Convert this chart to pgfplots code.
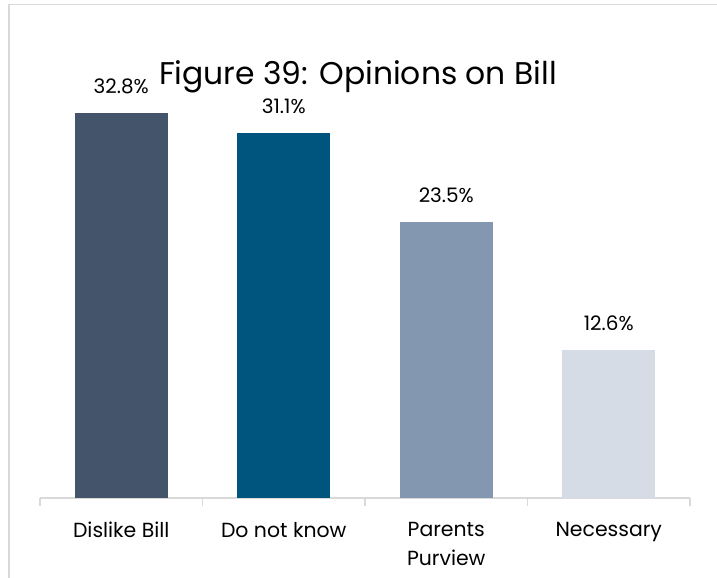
\documentclass[border=0pt]{standalone}
\usepackage{pgfplots}
\pgfplotsset{compat=1.18}
\usepackage{fontspec}
\setmainfont{Poppins}
\definecolor{c1}{HTML}{44546A}
\definecolor{c2}{HTML}{00557F}
\definecolor{c3}{HTML}{8497B0}
\definecolor{c4}{HTML}{D6DCE5}
\definecolor{fr}{HTML}{D9D9D9}
\begin{document}
\begin{tikzpicture}[x=1bp,y=1bp]
\path[use as bounding box] (-40,-80) rectangle (677,498);
\clip (-40,-80) rectangle (677,498);
\draw[fr, line width=1.5bp] (-31,-120) rectangle (720,493.5);
\begin{axis}[
  at={(0,0)}, anchor=south west,
  scale only axis, width=650bp, height=469.6bp,
  xmin=-0.5, xmax=3.5, ymin=0, ymax=40,
  enlargelimits=false,
  hide y axis,
  axis x line*=bottom,
  x axis line style={fr, line width=1.3bp, -},
  xtick={0,1,2,3},
  xticklabels={Dislike Bill, Do not know, Parents\\Purview, Necessary},
  xticklabel style={align=center, font=\fontsize{20.5}{29}\selectfont, text=black, inner sep=0pt, yshift=-24bp},
  major tick length=0pt,
  minor xtick={-0.5,0.5,1.5,2.5,3.5},
  minor tick length=8bp,
  tick align=outside,
  minor tick style={fr, line width=1.3bp},
  ybar, bar width=93bp, bar shift=0pt,
  nodes near coords={\pgfmathprintnumber[fixed,fixed zerofill,precision=1,assume math mode=true]{\pgfplotspointmeta}\%},
  every node near coord/.append style={font=\fontsize{20}{24}\selectfont, text=black, anchor=south, inner sep=0pt, yshift=19bp},
  clip=false,
]
\addplot[fill=c1, draw=none] coordinates {(0,32.8)};
\addplot[fill=c2, draw=none] coordinates {(1,31.1)};
\addplot[fill=c3, draw=none] coordinates {(2,23.5)};
\addplot[fill=c4, draw=none] coordinates {(3,12.6)};
\end{axis}
\node[font=\fontsize{31.5}{34}\selectfont, anchor=base] at (318,413) {Figure 39: Opinions on Bill};
\end{tikzpicture}
\end{document}
